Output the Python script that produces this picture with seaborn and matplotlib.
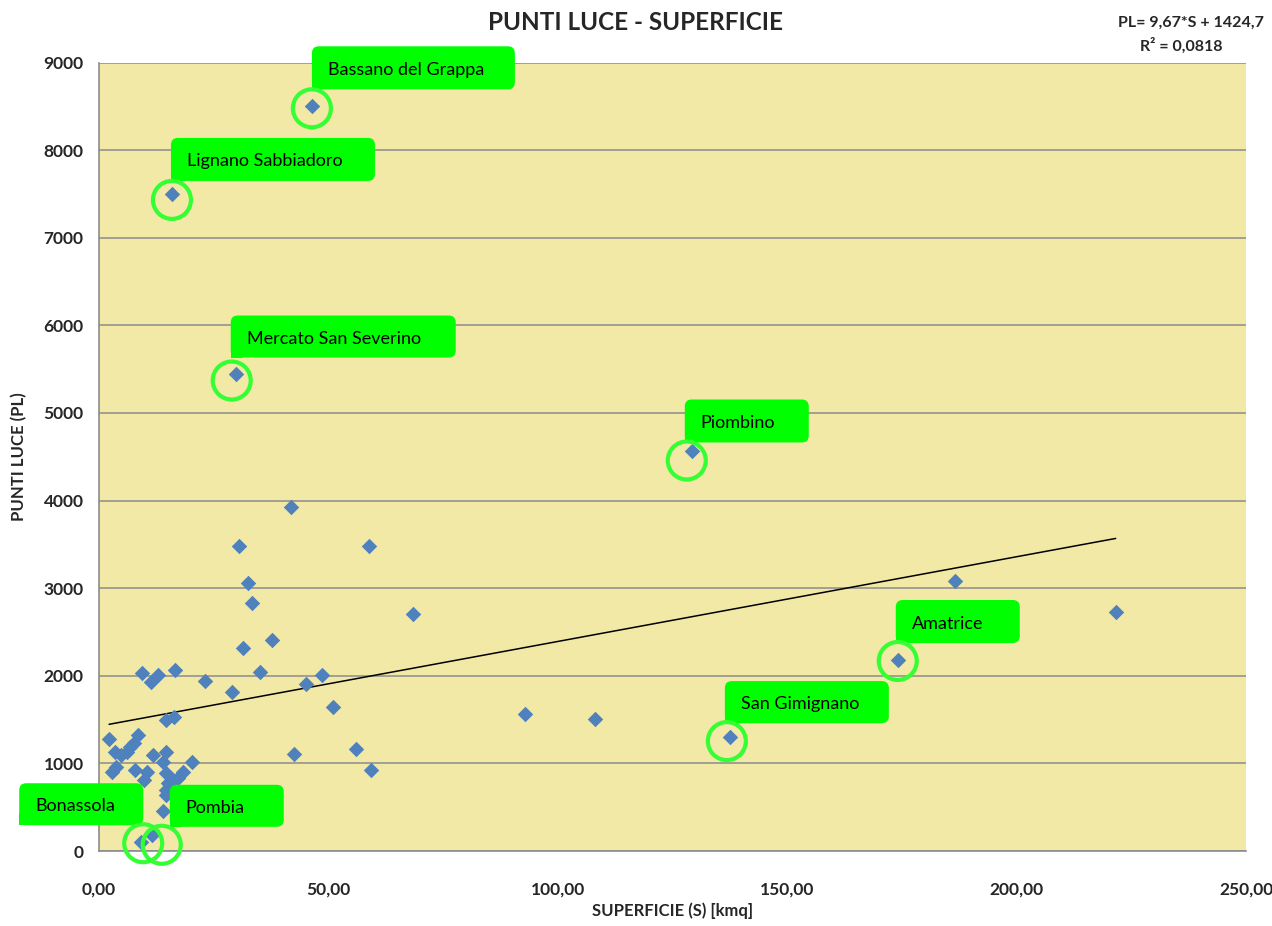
import numpy as np
import pandas as pd
import matplotlib
matplotlib.use("Agg")
import matplotlib.pyplot as plt
import matplotlib.transforms as mtransforms
from matplotlib.patches import FancyBboxPatch, Circle, Rectangle
import seaborn as sns

# Surface area (kmq) and number of street lights per municipality
superficie = [
    46.4, 15.9, 29.8, 129.2, 174.1, 137.5, 9.2, 11.5,
    2.2, 8.4, 3.5, 6.8, 7.7, 6.0, 4.8, 11.8, 14.5, 14.0, 20.2,
    2.9, 3.6, 7.8, 10.4, 9.9, 14.7, 18.4, 17.3, 16.2, 14.7, 14.5, 14.0, 15.1,
    9.3, 11.3, 12.8, 16.6, 23.2, 28.9, 31.4, 35.1, 37.8, 14.7, 16.3,
    41.8, 30.6, 58.8, 32.5, 33.3, 68.4, 48.6, 45.2, 51.0, 56.0, 59.2, 42.5,
    92.8, 108.1, 186.5, 221.6,
]
punti_luce = [
    8500, 7500, 5450, 4560, 2180, 1300, 100, 185,
    1275, 1320, 1134, 1190, 1229, 1134, 1100, 1096, 1134, 1019, 1012,
    905, 962, 925, 905, 810, 887, 905, 830, 810, 696, 639, 460, 773,
    2035, 1926, 2013, 2066, 1941, 1812, 2314, 2040, 2410, 1495, 1533,
    3923, 3482, 3482, 3056, 2828, 2702, 2006, 1903, 1640, 1164, 925, 1107,
    1564, 1507, 3082, 2728,
]

# Highlighted municipalities
comuni = ["Bassano del Grappa", "Lignano Sabbiadoro", "Mercato San Severino",
          "Piombino", "Amatrice", "San Gimignano", "Bonassola", "Pombia"]

# Linear trend
slope = 9.67
intercept = 1424.7
r2 = 0.0818

x_ticks = [0, 50, 100, 150, 200, 250]
y_ticks = [0, 1000, 2000, 3000, 4000, 5000, 6000, 7000, 8000, 9000]

df = pd.DataFrame({"S": superficie, "PL": punti_luce})

sns.set_theme(style="white")
plt.rcParams["font.family"] = ["Lato", "DejaVu Sans"]

W, H = 1272, 926
fig = plt.figure(figsize=(W / 100, H / 100), dpi=100)
ax = fig.add_axes([99 / W, 1 - 851 / H, (1246 - 99) / W, (851 - 62.5) / H])
ax.set_facecolor("#F2E9A6")

ax.set_xlim(0, 250)
ax.set_ylim(0, 9000)
ax.set_yticks(y_ticks)
ax.set_xticks(x_ticks)
ax.set_yticklabels([str(v) for v in y_ticks])
ax.set_xticklabels([f"{v:.2f}".replace(".", ",") for v in x_ticks])
ax.yaxis.grid(True, color="#8C8C8C", linewidth=1.1)
ax.xaxis.grid(False)
ax.set_axisbelow(True)
for side in ["top", "right"]:
    ax.spines[side].set_visible(False)
for side in ["left", "bottom"]:
    ax.spines[side].set_color("#8C8C8C")
    ax.spines[side].set_linewidth(1.2)
ax.tick_params(axis="both", which="major", length=5, width=1.1, color="#8C8C8C",
               direction="out", labelsize=12.5, pad=6)
ax.tick_params(axis="x", pad=17)
for lab in ax.get_xticklabels() + ax.get_yticklabels():
    lab.set_fontweight("bold")

# Trend line over the data range
xs = np.array([min(superficie), max(superficie)])
ax.plot(xs, slope * xs + intercept, color="black", linewidth=1.1, zorder=2)

sns.scatterplot(data=df, x="S", y="PL", ax=ax, marker="D", color="#4F81BD",
                s=62, linewidth=0, zorder=3, legend=False)

ax.set_xlabel("SUPERFICIE (S) [kmq]", fontsize=12, fontweight="bold", va="center")
ax.xaxis.set_label_coords(0.5, -60 / 788.5)
ax.set_ylabel("PUNTI LUCE (PL)", fontsize=12, fontweight="bold", labelpad=12)

fig.text(0.5, 1 - 23 / H, "PUNTI LUCE - SUPERFICIE", ha="center", va="center",
         fontsize=17.5, fontweight="bold")
fig.text(1191 / W, 1 - 23 / H, f"PL= {slope:.2f}*S + {intercept:.1f}".replace(".", ","),
         ha="center", va="center", fontsize=11.5, fontweight="bold")
fig.text(1181 / W, 1 - 46 / H, f"R² = {r2:.4f}".replace(".", ","),
         ha="center", va="center", fontsize=11.5, fontweight="bold")

# Callout layout in pixels relative to each point:
# (box left dx, box bottom dy above point, box width, box height, circle dx, circle dy)
callouts = {
    "Bassano del Grappa": (0, 17, 203, 43, 0, -2),
    "Lignano Sabbiadoro": (-1, 13, 204, 43, 0, -6),
    "Mercato San Severino": (-5, 16, 225, 42, -4, -7),
    "Piombino": (-7, 9, 124, 43, -5, -9),
    "Amatrice": (-2, 17, 124, 43, 0, -1),
    "San Gimignano": (-5, 14, 164, 42, -3, -4),
    "Bonassola": (-122, 17, 124, 42, 2, -1),
    "Pombia": (18, 8, 114, 42, 10, -10),
}
green = "#00FF00"
for name in comuni:
    i = comuni.index(name)
    x, y = superficie[i], punti_luce[i]
    bx, by, bw, bh, cx, cy = callouts[name]
    anchor = mtransforms.ScaledTranslation(x, y, ax.transData)
    tr = mtransforms.IdentityTransform() + anchor
    box = FancyBboxPatch((bx + 3, by + 3), bw - 6, bh - 6,
                         boxstyle="round,pad=3,rounding_size=7",
                         transform=tr, facecolor=green, edgecolor="none",
                         zorder=5, clip_on=False)
    fig.add_artist(box)
    corner = Rectangle((bx, by), 12, 12, transform=tr, facecolor=green,
                       edgecolor="none", zorder=5, clip_on=False)
    fig.add_artist(corner)
    fig.text(bx + 16, by + bh / 2 - 2, name, transform=tr, ha="left", va="center",
             fontsize=13, color="black", zorder=6)
    ring = Circle((cx, cy), 19, transform=tr, facecolor="none",
                  edgecolor="#33FF33", linewidth=3, zorder=6, clip_on=False)
    fig.add_artist(ring)

fig.savefig("out.png", dpi=100, facecolor="white")
